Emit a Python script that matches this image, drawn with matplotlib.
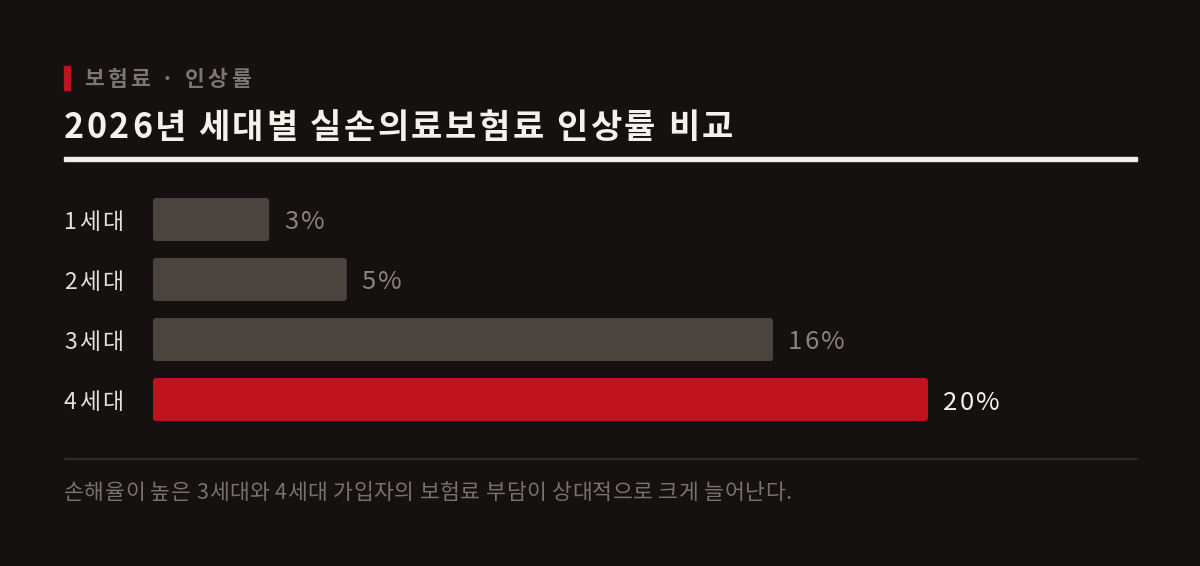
import matplotlib
matplotlib.use("Agg")
import matplotlib.pyplot as plt
from matplotlib.patches import FancyBboxPatch, Rectangle
from matplotlib.transforms import IdentityTransform

plt.rcParams['font.family'] = ['Noto Sans CJK KR', 'DejaVu Sans']

# 데이터
categories = ['1세대', '2세대', '3세대', '4세대']
values = [3, 5, 16, 20]
value_labels = ['3%', '5%', '16%', '20%']
highlight = '4세대'

kicker = '보험료 · 인상률'
title = '2026년 세대별 실손의료보험료 인상률 비교'
note = '손해율이 높은 3세대와 4세대 가입자의 보험료 부담이 상대적으로 크게 늘어난다.'

BG = '#141110'
GREY_BAR = '#4a433e'
RED = '#c0121f'
W, H = 1200, 566

fig = plt.figure(figsize=(W / 100, H / 100), dpi=100, facecolor=BG)
renderer = fig.canvas.get_renderer()


def px(x, y):
    # 픽셀 좌표 -> figure 좌표 (위에서부터)
    return x / W, 1 - y / H


def text_width(s, **kw):
    t = fig.text(0, 0, s, transform=IdentityTransform(), **kw)
    w = t.get_window_extent(renderer).width
    t.remove()
    return w


# 자간을 넣은 텍스트 (x, 기준선 y 는 위에서부터의 픽셀)
def tracked_text(x, y, s, tracking=0.0, **kw):
    ref = text_width('|', **kw)
    for i, ch in enumerate(s):
        if ch == ' ':
            continue
        off = text_width(s[:i] + '|', **kw) - ref if i else 0
        fig.text(x + off + i * tracking, H - y, ch, transform=IdentityTransform(),
                 va='baseline', ha='left', **kw)


# 상단 장식
fig.patches.append(Rectangle(px(64, 90), 6 / W, 24 / H, transform=fig.transFigure,
                             color=RED, zorder=3))
tracked_text(84, 85.5, kicker, 3.2, color='#7d7670', fontsize=15.5, fontweight='bold')
tracked_text(64, 138, title, 2.5, color='#f5f2ee', fontsize=24.5, fontweight='bold')
fig.patches.append(Rectangle(px(64, 161), (1137 - 64) / W, 3.5 / H,
                             transform=fig.transFigure, color='#f2efea', zorder=3))
fig.patches.append(Rectangle(px(64, 459), (1137 - 64) / W, 1 / H,
                             transform=fig.transFigure, color='#2c2826', zorder=3))
tracked_text(64, 499, note, 0.5, color='#78716c', fontsize=15.5, fontweight='light')

# 막대 영역
ax_l, ax_r, ax_t, ax_b = 153, 1137, 189.5, 429.5
ax = fig.add_axes([ax_l / W, 1 - ax_b / H, (ax_r - ax_l) / W, (ax_b - ax_t) / H])
ax.set_facecolor(BG)
px_per_unit = 38.75
ax.set_xlim(0, (ax_r - ax_l) / px_per_unit)
ax.set_ylim(len(categories) - 0.5, -0.5)
ax.axis('off')

y_per_px = len(categories) / (ax_b - ax_t)
x_per_px = 1 / px_per_unit
bar_h = 43 * y_per_px

for i, (cat, v, lab) in enumerate(zip(categories, values, value_labels)):
    is_hl = cat == highlight
    r = 3 * x_per_px
    box = FancyBboxPatch((0, i - bar_h / 2), v, bar_h,
                         boxstyle=f"round,pad=0,rounding_size={r}",
                         mutation_aspect=y_per_px / x_per_px,
                         facecolor=RED if is_hl else GREY_BAR, edgecolor='none')
    ax.add_patch(box)
    # 막대 끝 위치(픽셀)
    xe, yc = ax.transData.transform((v, i))
    tracked_text(xe + 15, H - yc + 10, lab, 2.2, fontsize=18.5,
                 color='#f5f2ee' if is_hl else '#8a837d',
                 fontweight='medium' if is_hl else 'normal')
    x0, _ = ax.transData.transform((0, i))
    tracked_text(x0 - 89, H - yc + 9.5, cat, 2.0, fontsize=16.5,
                 color='#e4e0dc', fontweight='light')

fig.savefig('out.png', dpi=100, facecolor=BG)
